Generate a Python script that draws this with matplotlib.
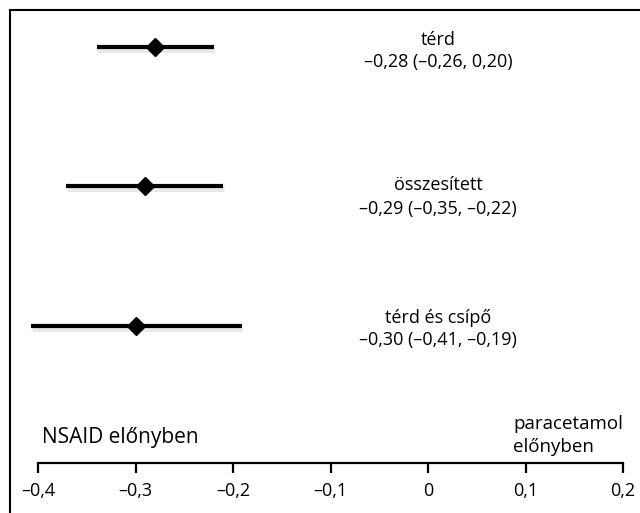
import matplotlib
matplotlib.use("Agg")
import matplotlib.pyplot as plt
import matplotlib.patheffects as pe
from matplotlib.ticker import FuncFormatter

plt.rcParams['font.family'] = ['Open Sans', 'DejaVu Sans']

labels = ["térd", "összesített", "térd és csípő"]
estimates = ["–0,28 (–0,26, 0,20)", "–0,29 (–0,35, –0,22)", "–0,30 (–0,41, –0,19)"]
points = [-0.28, -0.29, -0.30]
lows = [-0.34, -0.371, -0.407]
highs = [-0.22, -0.21, -0.191]
ticks = [-0.4, -0.3, -0.2, -0.1, 0, 0.1, 0.2]

W, H = 640, 513
fig = plt.figure(figsize=(W / 100, H / 100), dpi=100)
ax = fig.add_axes([0, 0, 1, 1])
ax.set_xlim(-0.4 - 38 / 975, 0.2 + 17 / 975)
ax.set_ylim((513 - 47) / 139.5, -47 / 139.5)


def px(x):
    return (x - 428) / 975


def py(y):
    return (y - 47) / 139.5


shadow = [pe.SimpleLineShadow(offset=(0.5, -1.2), alpha=0.18, shadow_color='gray', linewidth=5), pe.Normal()]
for i, (p, lo, hi) in enumerate(zip(points, lows, highs)):
    ax.plot([lo, hi], [i, i], color='black', lw=3, solid_capstyle='butt', path_effects=shadow, zorder=2)
    ax.plot([p], [i], marker='D', color='black', markersize=9.5, zorder=3)

y1s = [40, 185, 318]
y2s = [62, 209, 340]
for i, (lab, est) in enumerate(zip(labels, estimates)):
    ax.text(px(438), py(y1s[i]), lab, ha='center', va='center', fontsize=13)
    ax.text(px(438), py(y2s[i]), est, ha='center', va='center', fontsize=13)

ax.text(px(42), py(438), "NSAID előnyben", ha='left', va='center', fontsize=15)
ax.text(px(513), py(424), "paracetamol", ha='left', va='center', fontsize=13.5)
ax.text(px(513), py(447), "előnyben", ha='left', va='center', fontsize=13.5)

for s in ['top', 'right', 'left']:
    ax.spines[s].set_visible(False)
ax.spines['bottom'].set_position(('data', py(463)))
ax.spines['bottom'].set_bounds(-0.4, 0.2)
ax.spines['bottom'].set_linewidth(1.6)
ax.set_xticks(ticks)
ax.xaxis.set_major_formatter(FuncFormatter(
    lambda v, _: "0" if abs(v) < 1e-9 else ("–" if v < 0 else "") + f"{abs(v):.1f}".replace(".", ",")))
ax.tick_params(axis='x', direction='out', length=7, width=1.6, pad=7, labelsize=13)
ax.set_yticks([])

# figure frame (top and left)
fig.add_artist(plt.Line2D([10 / W, 1], [1 - 10 / H, 1 - 10 / H], color='black', lw=1.5, transform=fig.transFigure))
fig.add_artist(plt.Line2D([10 / W, 10 / W], [0, 1 - 10 / H], color='black', lw=1.5, transform=fig.transFigure))

fig.savefig("out.png", dpi=100)
